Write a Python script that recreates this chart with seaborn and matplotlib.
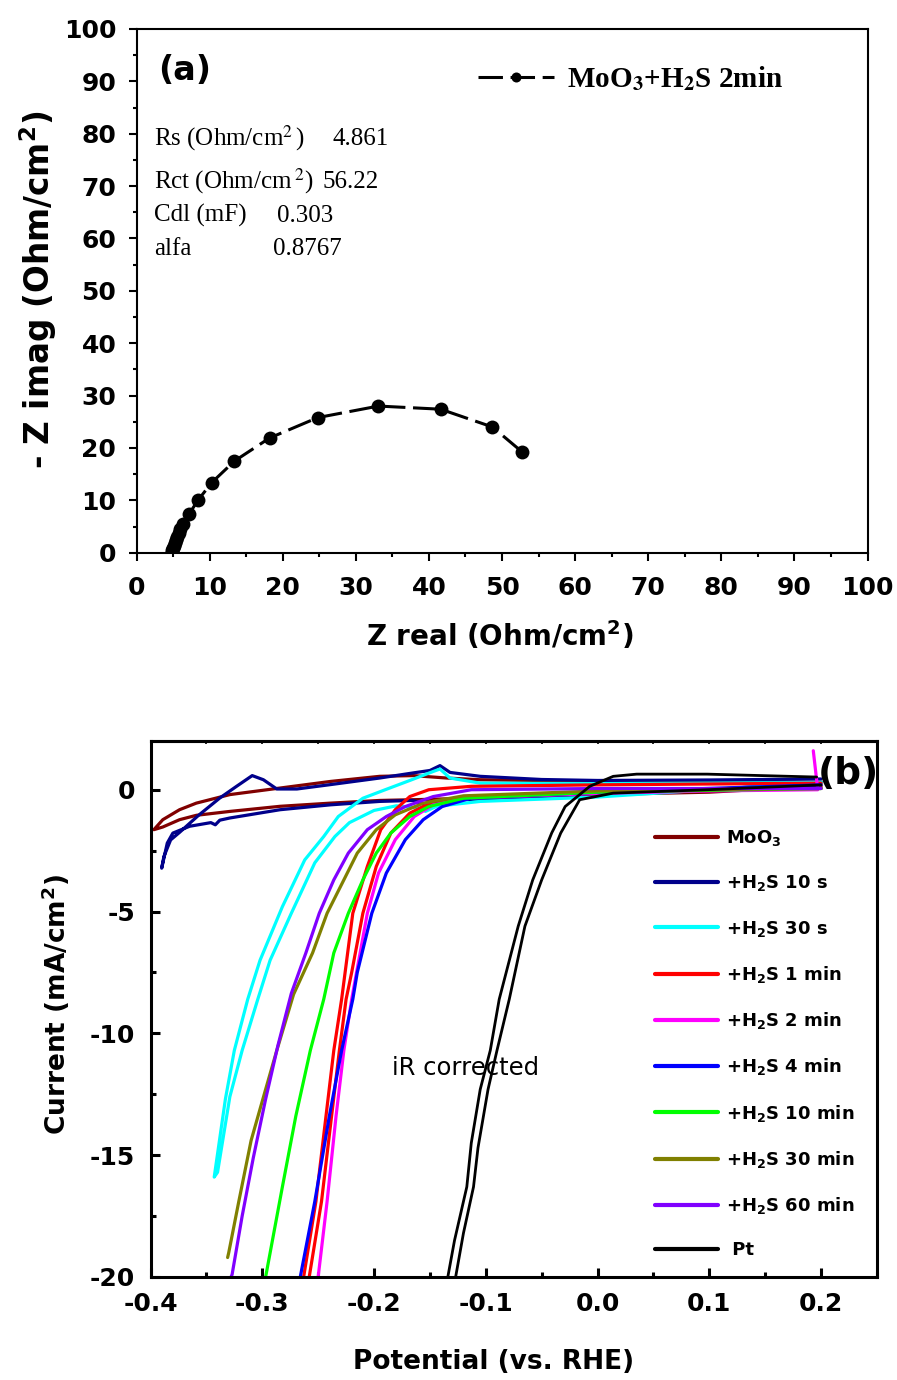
import matplotlib
matplotlib.use('Agg')
import matplotlib.pyplot as plt
import seaborn as sns
import pandas as pd
from matplotlib.ticker import MultipleLocator
from matplotlib.font_manager import FontProperties

# ---------------- data: panel (a) Nyquist ----------------
z_real = [52.7, 48.7, 41.6, 33.1, 24.8, 18.2, 13.4, 10.3, 8.4, 7.2, 6.4,
          6.0, 5.75, 5.55, 5.4, 5.25, 5.1, 5.0, 4.9, 4.8]
z_imag = [19.3, 24.0, 27.4, 28.0, 25.8, 21.9, 17.5, 13.4, 10.0, 7.4, 5.5,
          4.5, 3.7, 3.0, 2.4, 1.8, 1.3, 0.9, 0.5, 0.2]
nyq_label = r'MoO$_\mathbf{3}$+H$_\mathbf{2}$S 2min'
fit_names = [r'Rs (Ohm/cm$^\mathrm{2}$$\,$)', r'Rct (Ohm/cm$\,^\mathrm{2}$)', 'Cdl (mF)', 'alfa']
fit_values = ['4.861', '56.22', '0.303', '0.8767']

# ---------------- data: panel (b) polarisation curves ----------------
labels_b = ['MoO$_\\mathbf{3}$', '+H$_\\mathbf{2}$S 10 s', '+H$_\\mathbf{2}$S 30 s',
            '+H$_\\mathbf{2}$S 1 min', '+H$_\\mathbf{2}$S 2 min', '+H$_\\mathbf{2}$S 4 min',
            '+H$_\\mathbf{2}$S 10 min', '+H$_\\mathbf{2}$S 30 min', '+H$_\\mathbf{2}$S 60 min', ' Pt']
colors_b = ['#800000', '#00008B', '#00FFFF', '#FF0000', '#FF00FF', '#0000FF',
            '#00FF00', '#808000', '#8000FF', '#000000']

moo3_v = [0.20, 0.10, 0.0, -0.105, -0.165, -0.195, -0.239, -0.284, -0.329, -0.359, -0.374, -0.389, -0.397,
          -0.389, -0.374, -0.359, -0.329, -0.284, -0.239, -0.195, -0.165, -0.135, -0.105, 0.0, 0.10, 0.20]
moo3_i = [0.15, -0.1, -0.2, -0.34, -0.41, -0.44, -0.55, -0.68, -0.89, -1.05, -1.23, -1.53, -1.64,
          -1.23, -0.82, -0.55, -0.2, 0.07, 0.34, 0.55, 0.58, 0.48, 0.41, 0.35, 0.33, 0.3]

h10s_v = [0.2, 0.1, 0.0, -0.06, -0.12, -0.144, -0.151, -0.165, -0.195, -0.239, -0.284, -0.329, -0.338,
          -0.342, -0.346, -0.365, -0.38, -0.385, -0.39,
          -0.388, -0.382, -0.374, -0.357, -0.338, -0.323, -0.309, -0.299, -0.287, -0.269, -0.239,
          -0.195, -0.165, -0.15, -0.141, -0.132, -0.105, -0.05, 0.0, 0.1, 0.2]
h10s_i = [0.3, 0.0, -0.15, -0.3, -0.41, -0.55, -0.68, -0.44, -0.48, -0.62, -0.82, -1.16, -1.25,
          -1.44, -1.35, -1.5, -1.78, -2.19, -3.22,
          -2.74, -2.06, -1.75, -1.05, -0.34, 0.14, 0.58, 0.41, 0.03, 0.03, 0.21,
          0.48, 0.69, 0.79, 0.99, 0.71, 0.55, 0.42, 0.38, 0.4, 0.44]

h30s_v = [0.2, 0.1, 0.0, -0.105, -0.144, -0.154, -0.159, -0.18, -0.2, -0.222, -0.235, -0.253, -0.274,
          -0.293, -0.304, -0.318, -0.329, -0.34, -0.343,
          -0.333, -0.325, -0.313, -0.302, -0.282, -0.262, -0.245, -0.232, -0.21, -0.19, -0.168,
          -0.147, -0.141, -0.132, -0.105, 0.0, 0.1, 0.2]
h30s_i = [0.3, 0.0, -0.3, -0.48, -0.68, -0.89, -0.75, -0.66, -0.85, -1.35, -1.92, -3.0, -5.07,
          -7.0, -8.6, -10.7, -12.6, -15.7, -15.9,
          -12.7, -10.7, -8.6, -7.0, -4.8, -2.88, -1.92, -1.1, -0.35, 0.0, 0.38,
          0.75, 0.85, 0.48, 0.27, 0.25, 0.27, 0.3]

h1m_v = [0.2, 0.0, -0.113, -0.147, -0.168, -0.185, -0.198, -0.21, -0.22, -0.225, -0.231, -0.238, -0.247,
         -0.258, -0.26, -0.265, -0.263, -0.252, -0.243, -0.236, -0.229, -0.219, -0.206, -0.194, -0.181,
         -0.168, -0.151, -0.113, 0.0, 0.2]
h1m_i = [0.07, -0.1, -0.28, -0.48, -0.96, -1.78, -3.15, -5.07, -7.5, -8.6, -10.7, -13.4, -16.9,
         -20.0, -20.6, -20.6, -20.0, -16.9, -13.4, -10.7, -8.6, -5.07, -3.15, -1.64, -0.82,
         -0.28, 0.0, 0.14, 0.2, 0.27]

h2m_v = [-0.252, -0.25, -0.242, -0.234, -0.227, -0.22, -0.206, -0.196, -0.181, -0.164, -0.147,
         -0.113, 0.0, 0.1, 0.197, 0.195, 0.193]
h2m_i = [-20.6, -20.0, -16.9, -13.4, -10.7, -8.6, -5.07, -3.42, -2.05, -1.1, -0.62,
         -0.34, -0.15, -0.05, 0.0, 0.8, 1.6]

h4m_v = [-0.268, -0.266, -0.253, -0.24, -0.229, -0.219, -0.215, -0.202, -0.189, -0.172, -0.156,
         -0.139, -0.113, 0.014, 0.2]
h4m_i = [-20.6, -20.0, -16.9, -13.4, -10.7, -8.6, -7.5, -5.07, -3.42, -2.05, -1.23,
         -0.69, -0.34, -0.07, 0.2]

h10m_v = [-0.298, -0.297, -0.282, -0.27, -0.257, -0.245, -0.236, -0.223, -0.21, -0.198, -0.185,
          -0.168, -0.151, -0.12, 0.0, 0.2]
h10m_i = [-20.6, -20.0, -16.3, -13.4, -10.7, -8.6, -6.7, -5.07, -3.7, -2.6, -1.78,
          -1.1, -0.69, -0.35, -0.1, 0.05]

h30m_v = [-0.331, -0.33, -0.321, -0.31, -0.297, -0.287, -0.272, -0.255, -0.242, -0.227, -0.215,
          -0.198, -0.181, -0.156, -0.12, 0.0, 0.2]
h30m_i = [-19.2, -19.0, -16.9, -14.4, -12.3, -10.7, -8.4, -6.7, -5.07, -3.7, -2.6,
          -1.64, -1.03, -0.55, -0.25, -0.05, 0.05]

h60m_v = [-0.328, -0.327, -0.318, -0.308, -0.297, -0.286, -0.274, -0.261, -0.249, -0.236, -0.223,
          -0.206, -0.189, -0.172, -0.147, -0.113, 0.0, 0.2]
h60m_i = [-20.0, -19.9, -17.5, -15.1, -12.7, -10.5, -8.36, -6.7, -5.07, -3.7, -2.6,
          -1.64, -1.1, -0.69, -0.28, 0.0, 0.05, 0.05]

pt_v = [0.2, 0.098, 0.014, -0.016, -0.033, -0.05, -0.065, -0.079, -0.09, -0.098, -0.107, -0.111,
        -0.12, -0.127, -0.129, -0.136, -0.134, -0.128, -0.117, -0.113, -0.105, -0.096, -0.088,
        -0.071, -0.058, -0.041, -0.029, -0.007, 0.014, 0.035, 0.098, 0.196]
pt_i = [0.2, 0.0, -0.14, -0.41, -1.78, -3.7, -5.6, -8.6, -10.7, -12.3, -14.7, -16.3,
        -18.2, -20.0, -20.6, -20.6, -20.0, -18.5, -16.3, -14.5, -12.3, -10.7, -8.6,
        -5.6, -3.7, -1.77, -0.69, 0.14, 0.55, 0.64, 0.64, 0.52]

curves_v = [moo3_v, h10s_v, h30s_v, h1m_v, h2m_v, h4m_v, h10m_v, h30m_v, h60m_v, pt_v]
curves_i = [moo3_i, h10s_i, h30s_i, h1m_i, h2m_i, h4m_i, h10m_i, h30m_i, h60m_i, pt_i]

# ---------------- style ----------------
sns.set_theme(style='ticks', rc={'axes.edgecolor': 'black', 'xtick.color': 'black',
                                 'ytick.color': 'black', 'text.color': 'black',
                                 'axes.labelcolor': 'black'})
plt.rcParams['font.family'] = ['DejaVu Sans']
plt.rcParams['mathtext.fontset'] = 'dejavusans'

fig = plt.figure(figsize=(8.97, 13.8), dpi=100)
ax1 = fig.add_axes([136.5 / 897, 1 - 552.7 / 1380, 731 / 897, 523.7 / 1380])
ax2 = fig.add_axes([150.5 / 897, 1 - 1277 / 1380, 726.5 / 897, 536 / 1380])

# ---------------- panel (a) ----------------
df_a = pd.DataFrame({'Zr': z_real, 'Zi': z_imag})
sns.lineplot(data=df_a, x='Zr', y='Zi', sort=False, estimator=None, ax=ax1,
             color='black', lw=2.2, marker='o', markersize=10, markeredgewidth=0,
             label=nyq_label)
ax1.lines[-1].set_dashes([8, 2.5])
ax1.set_xlim(0, 100)
ax1.set_ylim(0, 100)
ax1.xaxis.set_major_locator(MultipleLocator(10))
ax1.xaxis.set_minor_locator(MultipleLocator(5))
ax1.yaxis.set_major_locator(MultipleLocator(10))
ax1.yaxis.set_minor_locator(MultipleLocator(5))
ax1.tick_params(which='both', direction='out', width=1.5, labelsize=18)
ax1.tick_params(which='major', length=6)
ax1.tick_params(which='minor', length=3)
ax1.tick_params(axis='x', pad=10.5)
ax1.tick_params(axis='y', pad=8.5)
for s in ax1.spines.values():
    s.set_linewidth(1.5)
for t in ax1.get_xticklabels() + ax1.get_yticklabels():
    t.set_fontweight('bold')
ax1.set_xlabel(r'Z real (Ohm/cm$^\mathbf{2}$)', fontsize=20, fontweight='bold', va='center')
ax1.set_ylabel(r'- Z imag (Ohm/cm$^\mathbf{2}$)', fontsize=23.5, fontweight='bold', va='center')
ax1.xaxis.set_label_coords(0.497, -0.1576)
ax1.yaxis.set_label_coords(-0.1347, 0.5014)

ax1.text(0.0294, 0.9217, '(a)', transform=ax1.transAxes, fontsize=24, fontweight='bold',
         ha='left', va='center')
name_y = [0.7785, 0.6958, 0.632, 0.5685]
val_x = [0.2688, 0.2547, 0.1918, 0.1863]
for nm, vl, yy, xx in zip(fit_names, fit_values, name_y, val_x):
    for s, px in ((nm, 0.0239), (vl, xx)):
        ax1.text(px, yy, s, transform=ax1.transAxes, ha='left', va='baseline',
                 fontproperties=FontProperties(family='Liberation Serif', size=18,
                                               math_fontfamily='stix'))

leg1 = ax1.legend(loc='upper left', bbox_to_anchor=(0.467, 0.932), frameon=False,
                  prop=FontProperties(family='Liberation Serif', weight='bold', size=21,
                                      math_fontfamily='stix'),
                  handlelength=2.6, handletextpad=0.45, borderaxespad=0, borderpad=0,
                  markerscale=0.72)

# ---------------- panel (b) ----------------
for v, i, lab, col in zip(curves_v, curves_i, labels_b, colors_b):
    d = pd.DataFrame({'V': v, 'I': i})
    sns.lineplot(data=d, x='V', y='I', sort=False, estimator=None, ax=ax2,
                 color=col, lw=2.0 if col == '#000000' else 2.3, label=lab)
ax2.set_xlim(-0.4, 0.25)
ax2.set_ylim(-20, 2)
ax2.xaxis.set_major_locator(MultipleLocator(0.1))
ax2.xaxis.set_minor_locator(MultipleLocator(0.05))
ax2.yaxis.set_major_locator(MultipleLocator(5))
ax2.yaxis.set_minor_locator(MultipleLocator(2.5))
ax2.tick_params(which='both', direction='in', width=2.2, labelsize=18)
ax2.tick_params(which='major', length=6.5)
ax2.tick_params(which='minor', length=3.6)
ax2.tick_params(axis='x', pad=10.6)
ax2.tick_params(axis='y', pad=11)
for s in ax2.spines.values():
    s.set_linewidth(2.2)
ax2.set_xticks([-0.4, -0.3, -0.2, -0.1, 0.0, 0.1, 0.2])
ax2.set_xticklabels(['-0.4', '-0.3', '-0.2', '-0.1', '0.0', '0.1', '0.2'])
ax2.set_yticks([0, -5, -10, -15, -20])
ax2.set_yticklabels(['0', '-5', '-10', '-15', '-20'])
for t in ax2.get_xticklabels() + ax2.get_yticklabels():
    t.set_fontweight('bold')
sec = ax2.secondary_xaxis('top')
sec.xaxis.set_major_locator(MultipleLocator(0.05))
sec.tick_params(direction='in', length=2.5, width=1.2, labeltop=False)
sec.spines['top'].set_linewidth(2.2)

ax2.set_xlabel('Potential (vs. RHE)', fontsize=19, fontweight='bold', va='center')
ax2.set_ylabel(r'Current (mA/cm$^\mathbf{2}$)', fontsize=19, fontweight='bold', va='center')
ax2.xaxis.set_label_coords(0.472, -0.159)
ax2.yaxis.set_label_coords(-0.1307, 0.5084)

ax2.text(0.96, 0.938, '(b)', transform=ax2.transAxes, fontsize=27, fontweight='bold',
         ha='center', va='center')
ax2.text(0.333, 0.389, 'iR corrected', transform=ax2.transAxes, fontsize=17.5,
         ha='left', va='center')

leg2 = ax2.legend(loc='upper left', bbox_to_anchor=(0.6946, 0.8377), frameon=False,
                  prop=FontProperties(family='DejaVu Sans', weight='bold', size=13),
                  handlelength=3.5, handletextpad=0.44, borderaxespad=0, borderpad=0,
                  labelspacing=1.40)
for ln in leg2.get_lines():
    ln.set_linewidth(3.0)

fig.savefig('out.png', dpi=100)
